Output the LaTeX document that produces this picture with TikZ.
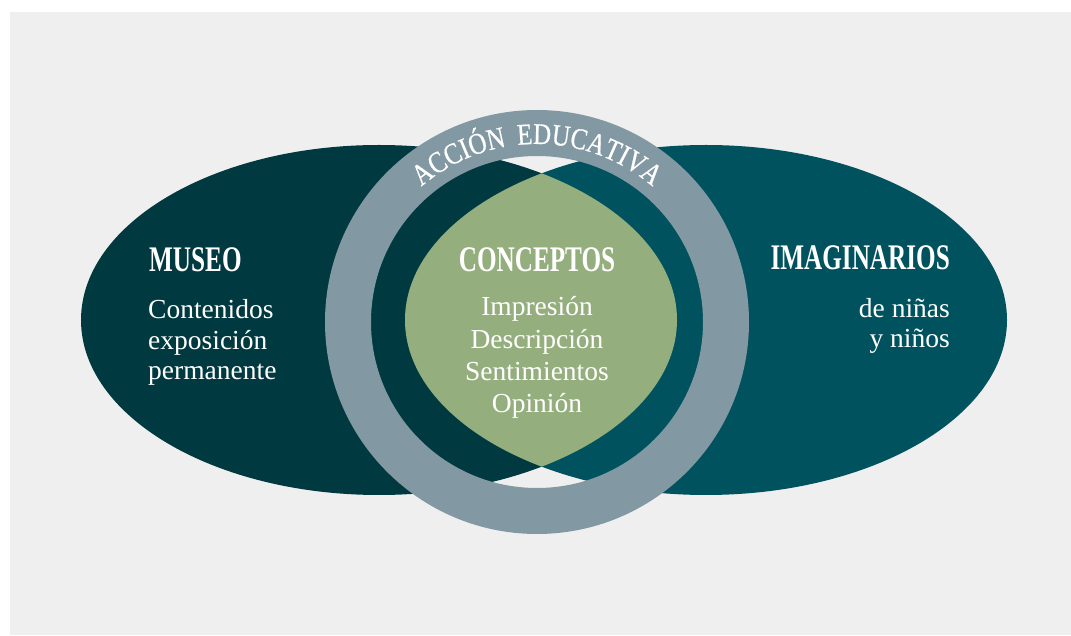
\documentclass[tikz,border=0pt]{standalone}
\usepackage{fontspec}
\setmainfont{Liberation Serif}[BoldFeatures={FakeStretch=0.7}]
\newfontfamily\arcfont{Liberation Serif}[FakeStretch=0.83, FakeBold=0.6]
\usetikzlibrary{decorations.text}
\definecolor{bggray}{HTML}{EFEFEF}
\definecolor{museo}{HTML}{003A40}
\definecolor{imag}{HTML}{00535E}
\definecolor{lensgreen}{HTML}{95AE7E}
\definecolor{ringgray}{HTML}{8299A3}
\tikzset{
  title/.style={inner sep=0pt, text=white, font=\bfseries\fontsize{36}{36}\selectfont},
  body/.style={inner sep=0pt, text=white, font=\fontsize{27.5}{27.5}\selectfont},
}
\begin{document}
\begin{tikzpicture}[x=1pt,y=1pt]
\useasboundingbox (0,0) rectangle (1071,635);
\fill[white] (0,0) rectangle (1071,635);
\fill[bggray] (10,0) rectangle (1071,623);
% ellipses
\fill[museo] (379,315) ellipse [x radius=298, y radius=175];
\fill[imag] (706,315) ellipse [x radius=301, y radius=175];
\begin{scope}
  \clip (379,315) ellipse [x radius=298, y radius=175];
  \fill[lensgreen] (706,315) ellipse [x radius=301, y radius=175];
\end{scope}
% ring
\fill[ringgray, even odd rule] (537,313) circle[radius=212] circle[radius=166];
\path[decorate, decoration={text along path, text align=center,
  text={|\arcfont\fontsize{30}{30}\selectfont\color{white}|ACCIÓN {\hspace{5pt}}EDUCATIVA}}]
  (359,313) arc[start angle=180, end angle=0, radius=178];
% texts
\node[title, anchor=base west] (museo) at (149,363) {MUSEO};
\node[body, anchor=base west] (m1) at (148,316) {Contenidos};
\node[body, anchor=base west] (m2) at (148,285) {exposición};
\node[body, anchor=base west] (m3) at (148,255) {permanente};
\node[title, anchor=base east] (imagin) at (950,365) {IMAGINARIOS};
\node[body, anchor=base east] (i1) at (950,317) {de niñas};
\node[body, anchor=base east] (i2) at (950,287) {y niños};
\node[title, anchor=base] (conc) at (537,363) {CONCEPTOS};
\node[body, anchor=base] (c1) at (537,319) {Impresión};
\node[body, anchor=base] (c2) at (537,286) {Descripción};
\node[body, anchor=base] (c3) at (537,254) {Sentimientos};
\node[body, anchor=base] (c4) at (537,222) {Opinión};
\end{tikzpicture}
\end{document}
